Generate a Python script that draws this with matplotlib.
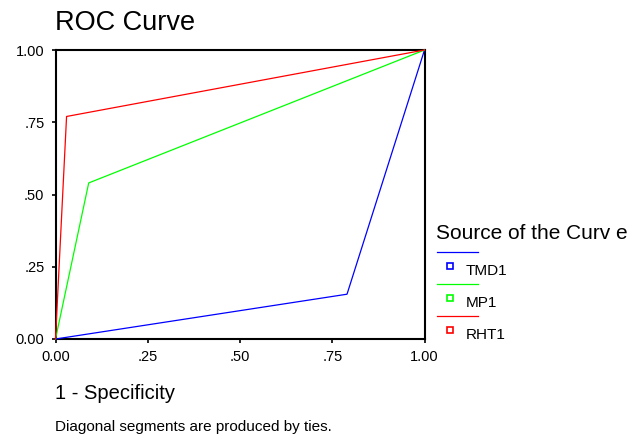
# ROC curves, SPSS style
import matplotlib
matplotlib.use("Agg")
import matplotlib.pyplot as plt
from matplotlib.lines import Line2D

series = ["TMD1", "MP1", "RHT1"]
colors = ["#0000ff", "#00ff00", "#ff0000"]
fpr = [[0.0, 0.79, 1.0], [0.0, 0.09, 1.0], [0.0, 0.03, 1.0]]
tpr = [[0.0, 0.155, 1.0], [0.0, 0.54, 1.0], [0.0, 0.77, 1.0]]
ticks = [0.0, 0.25, 0.5, 0.75, 1.0]
tick_labels = ["0.00", ".25", ".50", ".75", "1.00"]

plt.rcParams['font.family'] = ['Liberation Sans', 'DejaVu Sans']

W, H = 639, 434
fig = plt.figure(figsize=(W / 100, H / 100), dpi=100)

def px(x, y):
    return x / W, 1 - y / H

ax = fig.add_axes([55.5 / W, 1 - 339 / H, 369 / W, 289 / H])
for f, t, c in zip(fpr, tpr, colors):
    ax.plot(f, t, color=c, lw=0.9, clip_on=False, zorder=3)

ax.set_xlim(0, 1)
ax.set_ylim(0, 1)
ax.set_xticks(ticks)
ax.set_xticklabels(tick_labels)
ax.set_yticks(ticks)
ax.set_yticklabels(tick_labels)
ax.tick_params(length=3, width=1.2, pad=5, labelsize=10.5)
for s in ax.spines.values():
    s.set_linewidth(1.5)

fig.text(*px(55, 30), "ROC Curve", fontsize=19.5, va='baseline', ha='left')
fig.text(*px(55, 399), "1 - Specificity", fontsize=14.5, va='baseline', ha='left')
fig.text(*px(55, 431), "Diagonal segments are produced by ties.", fontsize=11,
         va='baseline', ha='left')

# legend, drawn by hand like the SPSS one
fig.text(*px(436, 239), "Source of the Curv e", fontsize=15, va='baseline', ha='left')
for i, (name, c) in enumerate(zip(series, colors)):
    y0 = 252 + 32 * i
    x1, y1 = px(437, y0)
    x2, _ = px(478, y0)
    fig.add_artist(Line2D([x1, x2], [y1, y1], color=c, lw=0.9, transform=fig.transFigure))
    mx, my = px(450, y0 + 14)
    fig.add_artist(Line2D([mx], [my], marker='s', ms=4.5, mfc='none', mec=c, mew=1.2,
                          ls='none', transform=fig.transFigure))
    fig.text(*px(466, y0 + 23), name, fontsize=11, va='baseline', ha='left')

fig.savefig("out.png", dpi=100)
